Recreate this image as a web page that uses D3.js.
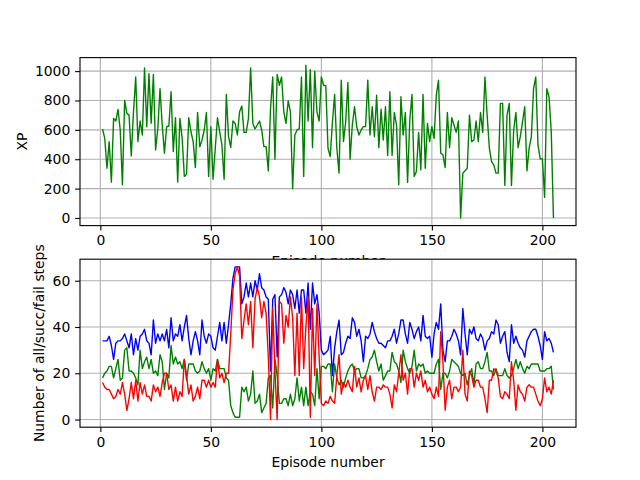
<!DOCTYPE html>
<html>
<head>
<meta charset="utf-8">
<script src="https://cdn.jsdelivr.net/npm/d3@7"></script>
<style>
body { margin: 0; background: #fff; }
text { font-family: "DejaVu Sans", sans-serif; }
</style>
</head>
<body>
<div id="chart"></div>
<script>
// XP per episode (top panel)
const xp = [
	606, 542, 339, 520, 244, 678, 660, 739, 599, 226, 800, 712, 700, 423, 723, 960, 520, 660, 565, 1021,
	621, 983, 644, 978, 463, 606, 881, 633, 441, 621, 626, 859, 452, 682, 244, 678, 547, 283, 298, 682,
	587, 520, 343, 718, 484, 531, 599,
	719, 283, 621, 264, 475, 682, 588, 497, 264, 841, 554, 481, 660, 644, 565, 723, 762, 583, 583, 678,
	1021, 644, 606, 633, 660, 599, 486, 486, 321, 746, 960, 400, 978, 904, 960, 723, 644, 798, 723, 199,
	565, 599, 606, 960, 283, 1040, 660, 1010, 479, 999, 723, 660, 960, 904,
	900, 475, 418, 651, 841, 475, 305, 938, 520, 655, 922, 400, 633, 757, 622, 565, 599, 622, 622, 938,
	565, 757, 554, 836, 479, 741, 531, 757, 425, 859, 425, 718, 633, 226, 825, 565, 718, 242, 666, 841,
	283, 316, 583, 328, 841, 339, 644, 520, 622, 542, 836, 938, 441, 429,
	343, 718, 479, 682, 633, 583, 660, 0, 305, 321, 339, 700, 520, 531, 660, 520, 718, 583, 960, 700,
	475, 384, 362, 305, 305, 780, 780, 221, 700, 780, 221, 599, 718, 479, 554, 655, 757, 321, 475, 554,
	881, 960, 497, 402, 402, 140, 881, 825, 588, 0
];

// steps per episode (bottom panel)
const allSteps = [
	34, 34, 34, 36, 32, 26, 33, 34, 34, 35, 37, 34, 31, 37, 28, 35, 30, 36, 37, 39,
	34, 33, 28, 43, 33, 37, 34, 37, 34, 39, 31, 44, 34, 37, 36, 41, 34, 40, 45, 35,
	28, 34, 38, 34, 28, 43, 36,
	33, 37, 36, 31, 30, 36, 42, 34, 42, 33, 41, 50, 61, 66, 66, 66, 50, 53, 59, 53,
	59, 53, 60, 56, 63, 57, 56, 53, 52, 21, 52, 54, 27, 53, 54, 57,
	55, 50, 56, 54, 48, 56, 46, 56, 56, 46, 59, 39, 59, 50, 54, 46, 30,
	28, 29, 30, 36, 19, 31, 38, 43, 28, 29, 33, 36, 35, 44, 42, 36, 39, 34, 25, 36,
	35, 37, 42, 38, 35, 33, 33, 32, 31, 34, 34, 36, 39, 33, 37, 43, 43, 37, 33, 42,
	39, 35, 38, 40, 34, 45, 36, 35, 36, 27, 37, 42, 39, 50, 30,
	25, 34, 34, 36, 39, 37, 34, 28, 48, 37, 28, 39, 37, 40, 35, 34, 37, 35, 30, 34,
	35, 38, 37, 43, 41, 33, 36, 38, 29, 25, 41, 33, 36, 33, 31, 30, 27, 34, 36, 38,
	39, 39, 36, 32, 26, 38, 34, 35, 33, 29
];
const succSteps = [
	18, 20, 21, 23, 23, 18, 22, 26, 17, 18, 30, 31, 21, 21, 20, 18, 15, 30, 22, 25,
	27, 22, 26, 20, 21, 19, 28, 25, 13, 20, 18, 32, 24, 27, 24, 25, 22, 26, 17, 24,
	24, 24, 21, 20, 21, 25, 22,
	20, 22, 17, 22, 21, 26, 22, 22, 22, 18, 17, 6, 3, 1, 1, 1, 14, 12, 14, 8,
	11, 21, 7, 8, 11, 3, 5, 7, 18, 19, 5, 26, 19, 7, 7, 9,
	9, 6, 11, 6, 9, 18, 8, 14, 6, 14, 6, 12, 11, 6, 22, 9, 23,
	23, 22, 24, 24, 12, 24, 18, 15, 17, 14, 18, 21, 23, 24, 21, 22, 22, 18, 18, 19,
	22, 26, 27, 30, 25, 21, 24, 17, 19, 21, 21, 29, 25, 24, 21, 16, 30, 25, 22, 20,
	23, 30, 21, 24, 23, 24, 20, 21, 20, 20, 20, 24, 26, 13, 20,
	20, 18, 21, 26, 25, 24, 23, 20, 19, 20, 15, 19, 22, 15, 24, 25, 22, 22, 25, 29,
	21, 21, 19, 22, 19, 19, 19, 22, 19, 18, 19, 22, 26, 22, 25, 22, 20, 23, 22, 24,
	24, 24, 24, 21, 21, 21, 22, 22, 23, 13
];
const failSteps = [
	16, 14, 13, 13, 11, 9, 10, 13, 11, 16, 11, 4, 9, 16, 9, 17, 8, 16, 11, 15,
	10, 10, 8, 15, 12, 14, 10, 16, 20, 20, 13, 15, 8, 14, 8, 12, 10, 26, 19, 11,
	15, 8, 10, 14, 9, 17, 17,
	14, 17, 14, 16, 14, 26, 18, 20, 16, 20, 20, 37, 56, 63, 66, 62, 35, 43, 50, 41,
	51, 31, 52, 57, 53, 44, 51, 46, 27, 0, 48, 21, 0, 51, 50, 33,
	45, 40, 53, 44, 19, 46, 19, 53, 22, 40, 53, 1, 48, 19, 50, 27, 7,
	6, 8, 7, 10, 8, 7, 19, 28, 11, 16, 14, 17, 14, 12, 23, 14, 18, 12, 17, 19,
	13, 19, 12, 8, 14, 14, 13, 15, 14, 14, 11, 5, 15, 12, 20, 28, 17, 20, 11, 22,
	22, 14, 20, 17, 21, 14, 17, 12, 14, 11, 9, 14, 10, 38, 25,
	4, 14, 17, 9, 14, 14, 12, 14, 30, 11, 8, 21, 19, 14, 17, 17, 14, 14, 9, 3,
	17, 17, 22, 21, 18, 10, 9, 12, 11, 9, 25, 17, 4, 15, 12, 11, 8, 14, 15, 14,
	14, 11, 8, 6, 9, 18, 12, 14, 11, 17
];

const episodes = xp.map((d, i) => i + 1);
const xTicks = [0, 50, 100, 150, 200];
const xpTicks = [0, 200, 400, 600, 800, 1000];
const stepTicks = [0, 20, 40, 60];

const W = 640, H = 480;
const LEFT = 80, RIGHT = 576;
const FONT = 13.9;     // 10pt at 100 dpi
const LW = 1.11;       // 0.8pt
const TICK = 4.86;     // 3.5pt

// matplotlib style 5% margins
function pad(ext) {
	const m = (ext[1] - ext[0]) * 0.05;
	return [ext[0] - m, ext[1] + m];
}

const svg = d3.select('#chart')
	.append('svg')
		.attr('width', W)
		.attr('height', H);

svg.append('rect').attr('width', W).attr('height', H).attr('fill', '#fff');

const x = d3.scaleLinear().domain(pad(d3.extent(episodes))).range([LEFT, RIGHT]);

function panel(top, bottom, lines, yTicks, yLabel, yLabelX) {
	const vals = lines.flatMap(l => l.values);
	const y = d3.scaleLinear().domain(pad(d3.extent(vals))).range([bottom, top]);
	const g = svg.append('g');

	// axes background (hides anything from the panel above)
	g.append('rect')
		.attr('x', LEFT).attr('y', top)
		.attr('width', RIGHT - LEFT).attr('height', bottom - top)
		.attr('fill', '#fff');

	// grid
	g.append('g').selectAll('line').data(xTicks).join('line')
		.attr('x1', d => x(d)).attr('x2', d => x(d))
		.attr('y1', top).attr('y2', bottom)
		.attr('stroke', '#b0b0b0').attr('stroke-width', LW);
	g.append('g').selectAll('line').data(yTicks).join('line')
		.attr('x1', LEFT).attr('x2', RIGHT)
		.attr('y1', d => y(d)).attr('y2', d => y(d))
		.attr('stroke', '#b0b0b0').attr('stroke-width', LW);

	// data lines
	const line = d3.line().x((d, i) => x(episodes[i])).y(d => y(d));
	lines.forEach(l => {
		g.append('path')
			.datum(l.values)
			.attr('d', line)
			.attr('fill', 'none')
			.attr('stroke', l.color)
			.attr('stroke-width', 1.39)
			.attr('stroke-linejoin', 'round');
	});

	// axes
	const xAxis = g.append('g')
		.attr('transform', `translate(0,${bottom})`)
		.call(d3.axisBottom(x).tickValues(xTicks).tickFormat(d3.format('d')).tickSize(TICK).tickPadding(TICK));
	const yAxis = g.append('g')
		.attr('transform', `translate(${LEFT},0)`)
		.call(d3.axisLeft(y).tickValues(yTicks).tickFormat(d3.format('d')).tickSize(TICK).tickPadding(TICK));
	[xAxis, yAxis].forEach(a => {
		a.select('.domain').remove();
		a.selectAll('line').attr('stroke', '#000').attr('stroke-width', LW);
		a.selectAll('text').attr('fill', '#000').style('font-size', FONT + 'px')
			.style('font-family', '"DejaVu Sans", sans-serif');
	});

	// spines
	g.append('rect')
		.attr('x', LEFT).attr('y', top)
		.attr('width', RIGHT - LEFT).attr('height', bottom - top)
		.attr('fill', 'none').attr('stroke', '#000').attr('stroke-width', LW);

	// labels
	g.append('text')
		.attr('x', (LEFT + RIGHT) / 2)
		.attr('y', bottom + 40)
		.attr('text-anchor', 'middle')
		.style('font-size', FONT + 'px')
		.text('Episode number');
	g.append('text')
		.attr('transform', `translate(${yLabelX},${(top + bottom) / 2}) rotate(-90)`)
		.attr('text-anchor', 'middle')
		.style('font-size', FONT + 'px')
		.text(yLabel);
}

panel(57.6, 225.6, [{ values: xp, color: '#008000' }], xpTicks, 'XP', 26.5);
panel(259.2, 427.2, [
	{ values: allSteps, color: '#0000ff' },
	{ values: succSteps, color: '#008000' },
	{ values: failSteps, color: '#ff0000' }
], stepTicks, 'Number of all/succ/fail steps', 44);
</script>
</body>
</html>
